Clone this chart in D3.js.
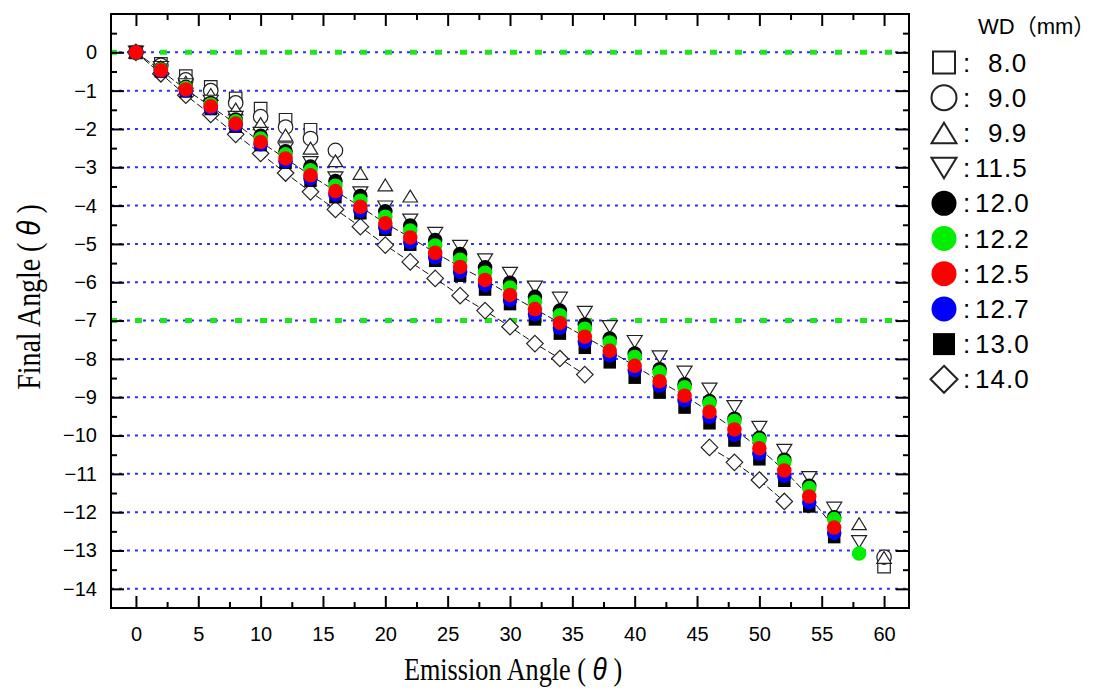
<!doctype html>
<html>
<head>
<meta charset="utf-8">
<title>Final angle vs emission angle</title>
<script src="https://d3js.org/d3.v7.min.js"></script>
<style>
  body { margin: 0; background: #fff; }
  svg { display: block; }
</style>
</head>
<body>
<script>

// emission angle (x), one entry every 2 degrees
var emission = [0, 2, 4, 6, 8, 10, 12, 14, 16, 18, 20, 22, 24, 26, 28, 30,
                32, 34, 36, 38, 40, 42, 44, 46, 48, 50, 52, 54, 56, 58, 60];

// final angle for each working distance (null = no point)
var wd80 = [0, -0.30, -0.62, -0.90, -1.20, -1.47, -1.76, -2.02,
            null, null, null, null, null, null, null, null, null, null, null, null, null,
            null, null, null, null, null, null, null, null, null, -13.42];
var wd90 = [0, -0.34, -0.72, -1.00, -1.32, -1.68, -1.95, -2.25, -2.56,
            null, null, null, null, null, null, null, null, null, null, null, null,
            null, null, null, null, null, null, null, null, null, -13.17];
var wd99 = [0, -0.38, -0.78, -1.10, -1.48, -1.86, -2.16, -2.50, -2.83, -3.16, -3.46, -3.75,
            null, null, null, null, null, null, null, null, null, null, null, null, null,
            null, null, null, null, -12.30, -13.18];
var wd115 = [0, -0.40, -0.85, -1.28, -1.70, -2.12, -2.52, -2.88, -3.28, -3.67, -4.04, -4.38,
             -4.73, -5.07, -5.42, -5.77, -6.13, -6.42, -6.79, -7.16, -7.55, -7.95, -8.35,
             -8.79, -9.25, -9.79, -10.39, -11.10, -11.90, -12.77];
var wd120 = [0, -0.43, -0.90, -1.32, -1.75, -2.18, -2.58, -2.98, -3.36, -3.75, -4.15, -4.52,
             -4.90, -5.26, -5.61, -6.01, -6.38, -6.74, -7.10, -7.47, -7.86, -8.27, -8.66,
             -9.10, -9.56, -10.06, -10.63, -11.31, -12.13];
var wd122 = [0, -0.45, -0.93, -1.36, -1.80, -2.25, -2.66, -3.08, -3.48, -3.87, -4.29, -4.65,
             -5.04, -5.41, -5.75, -6.14, -6.51, -6.86, -7.21, -7.57, -7.95, -8.35, -8.74,
             -9.16, -9.62, -10.11, -10.69, -11.37, -12.18, -13.08];
var wd125 = [0, -0.47, -0.97, -1.41, -1.86, -2.34, -2.77, -3.21, -3.62, -4.03, -4.46, -4.83,
             -5.23, -5.60, -5.94, -6.33, -6.70, -7.06, -7.42, -7.79, -8.18, -8.58, -8.96,
             -9.38, -9.84, -10.33, -10.91, -11.59, -12.40];
var wd127 = [0, -0.49, -1.00, -1.45, -1.91, -2.40, -2.84, -3.29, -3.71, -4.13, -4.57, -4.95,
             -5.35, -5.73, -6.07, -6.46, -6.83, -7.19, -7.55, -7.91, -8.29, -8.70, -9.08,
             -9.51, -9.98, -10.47, -11.05, -11.74, -12.54];
var wd130 = [0, -0.50, -1.02, -1.48, -1.94, -2.42, -2.88, -3.35, -3.78, -4.20, -4.63, -5.02,
             -5.44, -5.83, -6.19, -6.57, -6.97, -7.34, -7.71, -8.09, -8.49, -8.88, -9.27,
             -9.68, -10.13, -10.62, -11.18, -11.85, -12.65];
var wd140 = [0, -0.56, -1.12, -1.62, -2.14, -2.64, -3.15, -3.64, -4.10, -4.55, -5.03, -5.47,
             -5.90, -6.35, -6.74, -7.16, -7.60, -7.99, -8.41, null, null, null, null,
             -10.31, -10.70, -11.16, -11.72];

var legendLabels = ["8.0", "9.0", "9.9", "11.5", "12.0", "12.2", "12.5", "12.7", "13.0", "14.0"];

var xMajor = [0, 5, 10, 15, 20, 25, 30, 35, 40, 45, 50, 55, 60];
var xMinor = [2.5, 7.5, 12.5, 17.5, 22.5, 27.5, 32.5, 37.5, 42.5, 47.5, 52.5, 57.5];
var yMajor = [0, -1, -2, -3, -4, -5, -6, -7, -8, -9, -10, -11, -12, -13, -14];
var yMinor = [0.5, -0.5, -1.5, -2.5, -3.5, -4.5, -5.5, -6.5, -7.5, -8.5, -9.5, -10.5,
              -11.5, -12.5, -13.5];
var greenLevels = [0, -7];

// marker look per series (same order as legendLabels)
var series = [
  {values: wd80,  shape: "square",   fill: "#fff", stroke: "#222"},
  {values: wd90,  shape: "circle",   fill: "#fff", stroke: "#222"},
  {values: wd99,  shape: "triUp",    fill: "#fff", stroke: "#222"},
  {values: wd115, shape: "triDown",  fill: "#fff", stroke: "#222"},
  {values: wd120, shape: "circle",   fill: "#000", stroke: "none"},
  {values: wd122, shape: "circle",   fill: "#00ee00", stroke: "none"},
  {values: wd125, shape: "circle",   fill: "#ff0000", stroke: "none"},
  {values: wd127, shape: "circle",   fill: "#0000ff", stroke: "none"},
  {values: wd130, shape: "square",   fill: "#000", stroke: "none"},
  {values: wd140, shape: "diamond",  fill: "#fff", stroke: "#222"}
];
// draw order in the plot (red ends on top)
var drawOrder = [0, 1, 2, 3, 9, 8, 4, 5, 7, 6];

function shapePath(shape, s) {
  var h = s / 2, t = s * 0.82;
  if (shape == "square") return "M" + (-h) + "," + (-h) + "h" + s + "v" + s + "h" + (-s) + "Z";
  if (shape == "circle") return "M" + (-h) + ",0a" + h + "," + h + " 0 1,0 " + s + ",0a" + h + "," + h + " 0 1,0 " + (-s) + ",0Z";
  if (shape == "triUp") return "M0," + (-t / 2) + "L" + h + "," + (t / 2) + "L" + (-h) + "," + (t / 2) + "Z";
  if (shape == "triDown") return "M0," + (t / 2) + "L" + h + "," + (-t / 2) + "L" + (-h) + "," + (-t / 2) + "Z";
  return "M0," + (-h) + "L" + h + ",0L0," + h + "L" + (-h) + ",0Z";
}
var plotSize = {square: 12.5, circle: 14.5, triUp: 14.5, triDown: 15, diamond: 16.5};
var legendSize = {square: 22, circle: 25, triUp: 25, triDown: 25, diamond: 27};

var W = 1105, H = 690;
var svg = d3.select("body").append("svg").attr("width", W).attr("height", H);
svg.append("rect").attr("width", W).attr("height", H).attr("fill", "#fff");

var x = d3.scaleLinear().domain([-2, 62]).range([111, 909]);
var y = d3.scaleLinear().domain([1, -14.5]).range([14, 608]);

// grid
svg.append("g").selectAll("line").data(yMajor).enter().append("line")
  .attr("x1", x(-2)).attr("x2", x(62))
  .attr("y1", function(d){ return y(d); }).attr("y2", function(d){ return y(d); })
  .attr("stroke", "#2f2fff").attr("stroke-width", 2).attr("stroke-dasharray", "3,5");
svg.append("g").selectAll("line").data(greenLevels).enter().append("line")
  .attr("x1", x(-2)).attr("x2", x(62))
  .attr("y1", function(d){ return y(d); }).attr("y2", function(d){ return y(d); })
  .attr("stroke", "#1ee61e").attr("stroke-width", 5).attr("stroke-dasharray", "7,18")
  .attr("stroke-dashoffset", 1);

// connecting lines (12.5 and 14.0)
var line = d3.line()
  .defined(function(d){ return d.y != null; })
  .x(function(d){ return x(d.x); }).y(function(d){ return y(d.y); });
function pts(values) {
  return values.map(function(v, i){ return {x: emission[i], y: v}; });
}
[wd125, wd140].forEach(function(vals){
  svg.append("path").datum(pts(vals)).attr("d", line)
    .attr("fill", "none").attr("stroke", "#111").attr("stroke-width", 1)
    .attr("stroke-dasharray", "7,3");
});

// markers
drawOrder.forEach(function(k){
  var s = series[k];
  svg.append("g").selectAll("path")
    .data(pts(s.values).filter(function(d){ return d.y != null; }))
    .enter().append("path")
    .attr("transform", function(d){ return "translate(" + x(d.x) + "," + y(d.y) + ")"; })
    .attr("d", shapePath(s.shape, plotSize[s.shape]))
    .attr("fill", s.fill).attr("stroke", s.stroke).attr("stroke-width", 1.2);
});

// frame and ticks
function styleAxis(g) {
  g.select(".domain").remove();
  g.selectAll("line").attr("stroke", "#000").attr("stroke-width", 2);
  g.attr("font-family", "'Liberation Sans', Arial, sans-serif");
}
svg.append("g").attr("transform", "translate(0,608)")
  .call(d3.axisBottom(x).tickValues(xMajor).tickSize(-12).tickPadding(19).tickFormat(d3.format("d")))
  .call(styleAxis).attr("font-size", 20);
svg.append("g").attr("transform", "translate(0,608)")
  .call(d3.axisBottom(x).tickValues(xMinor).tickSize(-6).tickFormat("")).call(styleAxis);
svg.append("g").attr("transform", "translate(0,14)")
  .call(d3.axisTop(x).tickValues(xMajor).tickSize(-12).tickFormat("")).call(styleAxis);
svg.append("g").attr("transform", "translate(0,14)")
  .call(d3.axisTop(x).tickValues(xMinor).tickSize(-6).tickFormat("")).call(styleAxis);
svg.append("g").attr("transform", "translate(111,0)")
  .call(d3.axisLeft(y).tickValues(yMajor).tickSize(-13).tickPadding(14).tickFormat(d3.format("d")))
  .call(styleAxis).attr("font-size", 20);
svg.append("g").attr("transform", "translate(111,0)")
  .call(d3.axisLeft(y).tickValues(yMinor).tickSize(-6).tickFormat("")).call(styleAxis);
svg.append("g").attr("transform", "translate(909,0)")
  .call(d3.axisRight(y).tickValues(yMajor).tickSize(-13).tickFormat("")).call(styleAxis);
svg.append("g").attr("transform", "translate(909,0)")
  .call(d3.axisRight(y).tickValues(yMinor).tickSize(-6).tickFormat("")).call(styleAxis);

svg.append("rect").attr("x", 111).attr("y", 14).attr("width", 798).attr("height", 594)
  .attr("fill", "none").attr("stroke", "#000").attr("stroke-width", 2);

// axis titles
var xt = svg.append("text").attr("transform", "translate(513,680) scale(0.82,1)")
  .attr("text-anchor", "middle").attr("font-family", "'Liberation Serif', 'Times New Roman', serif")
  .attr("font-size", 32).attr("fill", "#000");
xt.append("tspan").text("Emission Angle ( ");
xt.append("tspan").attr("font-style", "italic").attr("font-family", "'Liberation Sans', sans-serif").text("θ");
xt.append("tspan").text(" )");

var yt = svg.append("text").attr("transform", "translate(40,297) rotate(-90) scale(0.82,1)")
  .attr("text-anchor", "middle").attr("font-family", "'Liberation Serif', 'Times New Roman', serif")
  .attr("font-size", 34).attr("fill", "#000");
yt.append("tspan").text("Final Angle ( ");
yt.append("tspan").attr("font-style", "italic").attr("font-family", "'Liberation Sans', sans-serif").text("θ");
yt.append("tspan").text(" )");

// legend
svg.append("text").attr("x", 978).attr("y", 34)
  .attr("font-family", "'Liberation Sans', 'Noto Sans CJK JP', sans-serif")
  .attr("font-size", 22).text("WD（mm）");

var leg = svg.append("g").selectAll("g").data(series).enter().append("g")
  .attr("transform", function(d, i){ return "translate(944," + (62.5 + i * 35.2) + ")"; });
leg.append("path")
  .attr("d", function(d){ return shapePath(d.shape, legendSize[d.shape]); })
  .attr("fill", function(d){ return d.fill; })
  .attr("stroke", function(d){ return d.stroke; }).attr("stroke-width", 2);
leg.append("text").attr("x", 19).attr("y", 9)
  .attr("font-family", "'Liberation Sans', Arial, sans-serif").attr("font-size", 26).text(":");
leg.append("text")
  .attr("x", function(d, i){ return legendLabels[i].length < 4 ? 44 : 31; }).attr("y", 9)
  .attr("font-family", "'Liberation Sans', Arial, sans-serif").attr("font-size", 26)
  .attr("letter-spacing", 1)
  .text(function(d, i){ return legendLabels[i]; });

</script>
</body>
</html>
